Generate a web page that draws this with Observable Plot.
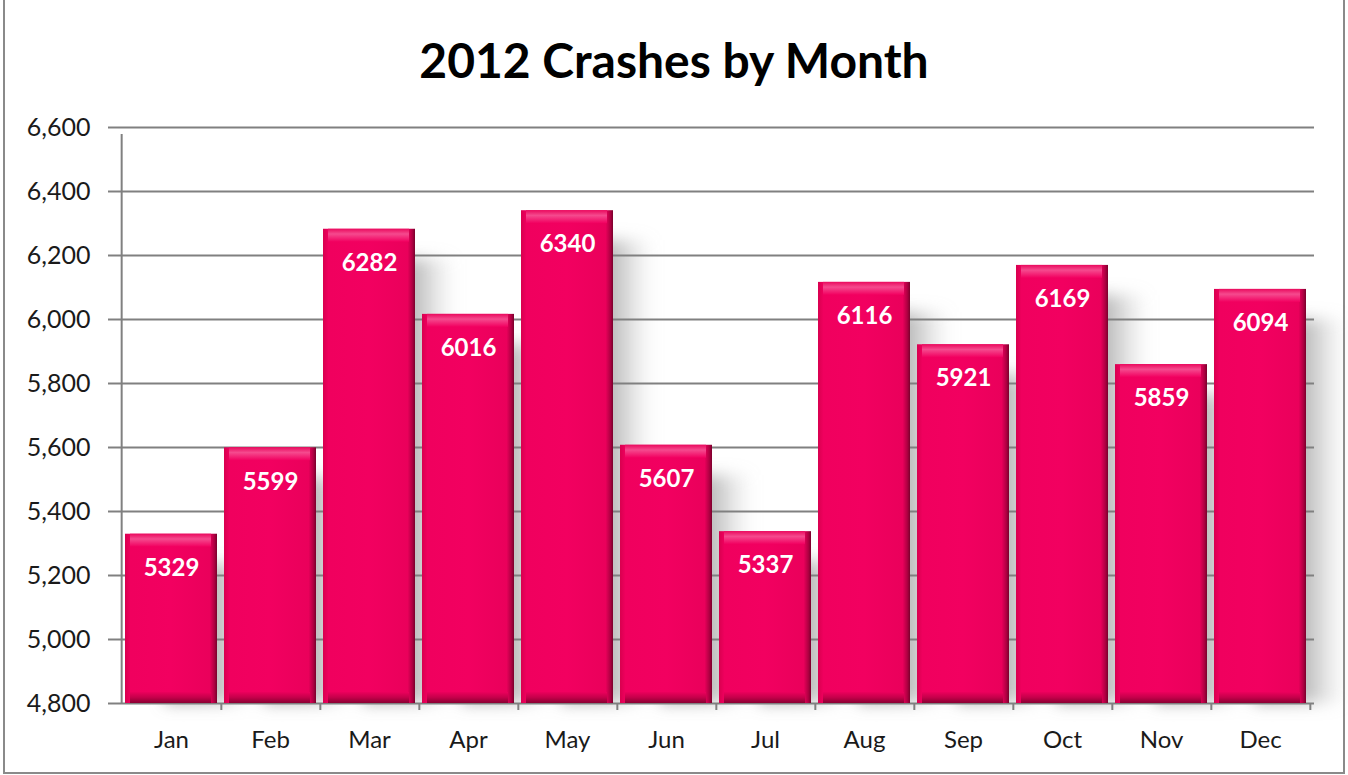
<!DOCTYPE html>
<html>
<head>
<meta charset="utf-8">
<script src="https://cdn.jsdelivr.net/npm/d3@7"></script>
<script src="https://cdn.jsdelivr.net/npm/@observablehq/plot@0.6"></script>
<style>
html, body { margin: 0; padding: 0; background: #fff; }
#wrap { position: relative; width: 1348px; height: 775px; overflow: hidden; font-family: Lato, "Open Sans", sans-serif; }
#frame { position: absolute; left: 3px; top: -4px; width: 1342px; height: 778px; border: 2px solid #8a8a8a; box-sizing: border-box; }
#title { position: absolute; left: 0; top: 30px; width: 1348px; height: 60px; line-height: 60px; text-align: center; font-weight: 700; font-size: 48px; color: #000; }
#chart { position: absolute; left: 0; top: 100px; }
</style>
</head>
<body>
<div id="wrap">
  <div id="frame"></div>
  <div id="title">2012 Crashes by Month</div>
  <div id="chart"></div>
</div>
<script>
const months = ["Jan", "Feb", "Mar", "Apr", "May", "Jun", "Jul", "Aug", "Sep", "Oct", "Nov", "Dec"];
const crashes = [5329, 5599, 6282, 6016, 6340, 5607, 5337, 6116, 5921, 6169, 5859, 6094];
const yTicks = [4800, 5000, 5200, 5400, 5600, 5800, 6000, 6200, 6400, 6600];

const data = months.map((m, i) => ({month: m, value: crashes[i]}));

const W = 1348, H = 675, ML = 118, MR = 34, MT = 27, MB = 72;
const step = (W - ML - MR) / months.length;

const defs = () => {
  const d = d3.create("svg:defs");
  const lg = (id, x2, y2, stops) => {
    const g = d.append("linearGradient").attr("id", id)
      .attr("x1", 0).attr("y1", 0).attr("x2", x2).attr("y2", y2);
    stops.forEach(([o, c, op]) => g.append("stop").attr("offset", o).attr("stop-color", c).attr("stop-opacity", op == null ? 1 : op));
  };
  lg("barGrad", 1, 0, [[0, "#d8004f"], [0.06, "#f0005e"], [0.5, "#f20060"], [0.92, "#ea005b"], [0.97, "#b00042"], [1, "#7a002c"]]);
  lg("topGrad", 0, 1, [[0, "#ea0a5e"], [0.4, "#f54a8e"], [1, "#f20060"]]);
  lg("botGrad", 0, 1, [[0, "#ec005c"], [0.5, "#c4004a"], [1, "#8a0032"]]);
  lg("shadowGrad", 1, 0, [[0, "#888", 0.7], [0.55, "#8c8c8c", 0.6], [1, "#bbb", 0]]);
  const f = d.append("filter").attr("id", "blur").attr("x", "-30%").attr("y", "-30%").attr("width", "160%").attr("height", "160%");
  f.append("feGaussianBlur").attr("stdDeviation", 8);
  return d.node();
};

const svg = Plot.plot({
  width: W,
  height: H,
  marginLeft: ML,
  marginRight: MR,
  marginTop: MT,
  marginBottom: MB,
  style: {fontFamily: "Lato, 'Open Sans', sans-serif", color: "#1a1a1a", background: "transparent", overflow: "visible"},
  x: {domain: months, paddingInner: 0.07, paddingOuter: 0.035},
  y: {domain: [4800, 6600]},
  marks: [
    defs,
    // soft shadow behind bars
    Plot.barY(data, {x: "month", y1: 4800, y2: "value", dx: 40, insetTop: 30, fill: "url(#shadowGrad)", ariaLabel: "shadow"}),
    // gridlines
    Plot.ruleY(yTicks, {stroke: "#808080", strokeWidth: 2}),
    // left axis line
    Plot.ruleX([months[0]], {x: d => d, dx: -step / 2, y1: 4800, y2: 6600, insetBottom: -7, stroke: "#808080", strokeWidth: 2}),
    // x category boundary ticks
    Plot.ruleX(months, {x: d => d, dx: step / 2, y1: 4800, y2: 4800, insetBottom: -7, stroke: "#808080", strokeWidth: 2}),
    // bars
    Plot.barY(data, {x: "month", y1: 4800, y2: "value", fill: "url(#barGrad)"}),
    Plot.barY(data, {x: "month", y1: "value", y2: "value", insetBottom: -13, insetLeft: 5, insetRight: 6, fill: "url(#topGrad)"}),
    Plot.barY(data, {x: "month", y1: 4800, y2: 4800, insetTop: -11, insetLeft: 5, insetRight: 6, fill: "url(#botGrad)"}),
    // value labels
    Plot.text(data, {x: "month", y: "value", text: d => String(d.value), dy: 34, fill: "white", fontWeight: "bold", fontSize: 24}),
    // axes
    Plot.axisY({ticks: yTicks, tickFormat: d3.format(","), tickSize: 10, tickPadding: 18, fontSize: 25, stroke: "#808080", strokeWidth: 2, fill: "#1a1a1a", label: null}),
    Plot.axisX({tickSize: 0, tickPadding: 27, fontSize: 24, fill: "#1a1a1a", label: null})
  ]
});

d3.select(svg).selectAll("g")
  .filter(function () { return this.getAttribute("aria-label") === "shadow" || this.getAttribute("fill") === "url(#shadowGrad)"; })
  .attr("filter", "url(#blur)");
document.getElementById("chart").appendChild(svg);
</script>
</body>
</html>
